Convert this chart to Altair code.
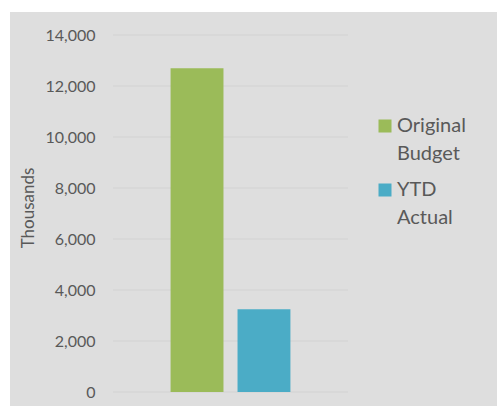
import altair as alt
import pandas as pd

series = ["Original Budget", "YTD Actual"]
values = [12700, 3250]
colors = ["#9bbb59", "#4bacc6"]
tick_values = [0, 2000, 4000, 6000, 8000, 10000, 12000, 14000]

W, H = 235, 357
FONT = "Lato"
TXT = "#595959"

bars_df = pd.DataFrame({"series": series, "value": values})
grid_df = pd.DataFrame({"tick": tick_values})
bg_df = pd.DataFrame({"k": [0]})

yscale = alt.Scale(domain=[0, 14000], nice=False)
yaxis = alt.Axis(values=tick_values, format=",d", title="Thousands",
                 grid=False, domain=False, ticks=False, tickSize=0,
                 labelPadding=18, labelFont=FONT, labelFontSize=16,
                 labelColor=TXT, titleFont=FONT, titleFontSize=17,
                 titleFontWeight="normal", titleColor=TXT,
                 titlePadding=7, titleY=H / 2 - 6, zindex=1)

bg = alt.Chart(bg_df).mark_rect(color="#dedede").encode(
    x=alt.value(-103), x2=alt.value(W + 149),
    y=alt.value(-23), y2=alt.value(H + 14),
)

grid = alt.Chart(grid_df).mark_rule(color="#d6d6d6", strokeWidth=1.5).encode(
    y=alt.Y("tick:Q", scale=yscale, axis=yaxis, title="Thousands"),
    x=alt.value(0), x2=alt.value(W),
)

bars = alt.Chart(bars_df).mark_bar().encode(
    x=alt.X("series:N", sort=series, axis=None,
            scale=alt.Scale(paddingInner=0.21, paddingOuter=0.86)),
    y=alt.Y("value:Q", scale=yscale, axis=yaxis, title="Thousands"),
    color=alt.Color("series:N", sort=series,
                    scale=alt.Scale(domain=series, range=colors),
                    legend=alt.Legend(
                        title=None, orient="none", legendX=262, legendY=81,
                        labelExpr="split(datum.label, ' ')",
                        labelFont=FONT, labelFontSize=20, labelColor=TXT,
                        labelBaseline="middle", labelOffset=2,
                        symbolType="square", symbolSize=169,
                        symbolStrokeWidth=0, rowPadding=16, padding=0,
                        labelLimit=200)),
)

chart = alt.layer(bg, grid, bars).properties(
    width=W, height=H,
    background="white",
    padding={"left": 10, "top": 12, "right": 0, "bottom": 0},
).configure(
    view=alt.ViewConfig(stroke=None),
    style={"guide-label": {"lineHeight": 27.5}},
)

chart.save("out.html", embed_options={"renderer": "svg", "actions": False})
